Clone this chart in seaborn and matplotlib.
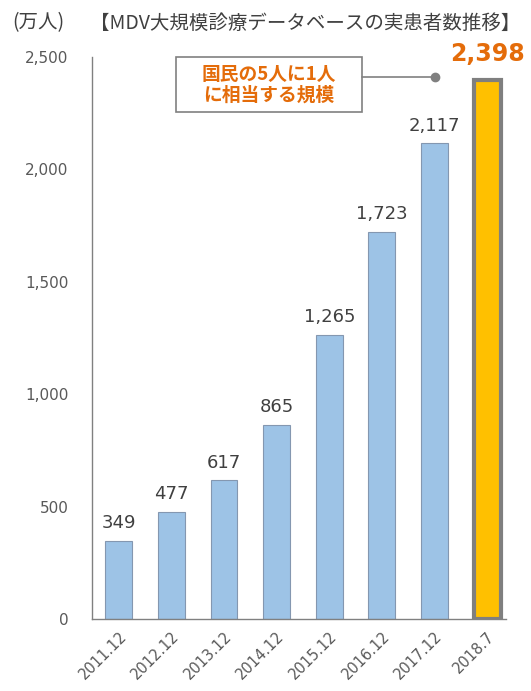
import matplotlib
matplotlib.use("Agg")
import matplotlib.pyplot as plt
from matplotlib.patches import Rectangle
import seaborn as sns
import pandas as pd

categories = ["2011.12", "2012.12", "2013.12", "2014.12", "2015.12", "2016.12", "2017.12", "2018.7"]
patients = [349, 477, 617, 865, 1265, 1723, 2117, 2398]
highlight = ["past", "past", "past", "past", "past", "past", "past", "latest"]
yticks = [0, 500, 1000, 1500, 2000, 2500]
unit_label = "(万人)"
title = "【MDV大規模診療データベースの実患者数推移】"
note = "国民の5人に1人\nに相当する規模"

sns.set_theme(style="white")
plt.rcParams['font.family'] = ['DejaVu Sans', 'Noto Sans CJK JP']
CJK = ['Noto Sans CJK JP', 'DejaVu Sans']

df = pd.DataFrame({"cat": categories, "val": patients, "grp": highlight})

fig = plt.figure(figsize=(5.31, 6.91), dpi=100)
ax = fig.add_axes([0.1733, 0.1042, 0.7797, 0.8133])

sns.barplot(data=df, x="cat", y="val", hue="grp",
            palette={"past": "#9DC3E6", "latest": "#FFC000"},
            saturation=1, dodge=False, width=0.51, legend=False, ax=ax)

# style bars (by x position order)
bars = sorted(ax.patches, key=lambda p: p.get_x())
for i, patch in enumerate(bars):
    if highlight[i] == "latest":
        patch.set_edgecolor("#7F7F7F")
        patch.set_linewidth(3)
    else:
        patch.set_edgecolor("#8497B0")
        patch.set_linewidth(0.8)

ax.set_xlim(-0.51, 7.36)
ax.set_ylim(0, 2500)
ax.set_yticks(yticks)
ax.set_yticklabels([f"{v:,}" for v in yticks], fontsize=11, color="#595959")
ax.tick_params(axis="y", direction="in", length=4, color="#808080", pad=17, width=0.8)
ax.tick_params(axis="x", length=0, pad=7)
ax.set_xticks(range(len(categories)))
ax.set_xticklabels(categories, rotation=45, ha="right", rotation_mode="anchor",
                   fontsize=10.5, color="#595959")
for lbl in ax.get_xticklabels():
    lbl.set_va("top")
ax.set_xlabel("")
ax.set_ylabel("")

for s in ["top", "right"]:
    ax.spines[s].set_visible(False)
for s in ["left", "bottom"]:
    ax.spines[s].set_color("#808080")
    ax.spines[s].set_linewidth(1.0)

# value labels
for i, v in enumerate(patients):
    if i == len(patients) - 1:
        ax.annotate(f"{v:,}", (i, v), xytext=(0, 10), textcoords="offset points",
                    ha="center", va="bottom", fontsize=17, fontweight="bold",
                    color="#E46C0A")
    else:
        ax.annotate(f"{v:,}", (i, v), xytext=(0, 6), textcoords="offset points",
                    ha="center", va="bottom", fontsize=13, color="#404040")

# annotation box with connector
W, H = 531, 691
fig.add_artist(Rectangle((176 / W, 1 - 112 / H), 186 / W, 55 / H,
                         transform=fig.transFigure, fc="white", ec="#808080", lw=1.2))
fig.text(269 / W, 1 - 85 / H, note, ha="center", va="center", fontsize=13.5,
         fontweight="bold", color="#E46C0A", linespacing=1.1, family=CJK)
fig.add_artist(plt.Line2D([362 / W, 435 / W], [1 - 77 / H, 1 - 77 / H],
                          color="#808080", lw=1.2))
fig.add_artist(plt.Line2D([435 / W], [1 - 77 / H], marker="o", markersize=6,
                          color="#808080"))

fig.text(12 / W, 1 - 23 / H, unit_label, ha="left", va="center", fontsize=14,
         color="#404040", family=CJK)
fig.text(90 / W, 1 - 23 / H, title, ha="left", va="center", fontsize=14,
         color="#404040", family=CJK)

fig.savefig("out.png", dpi=100)
